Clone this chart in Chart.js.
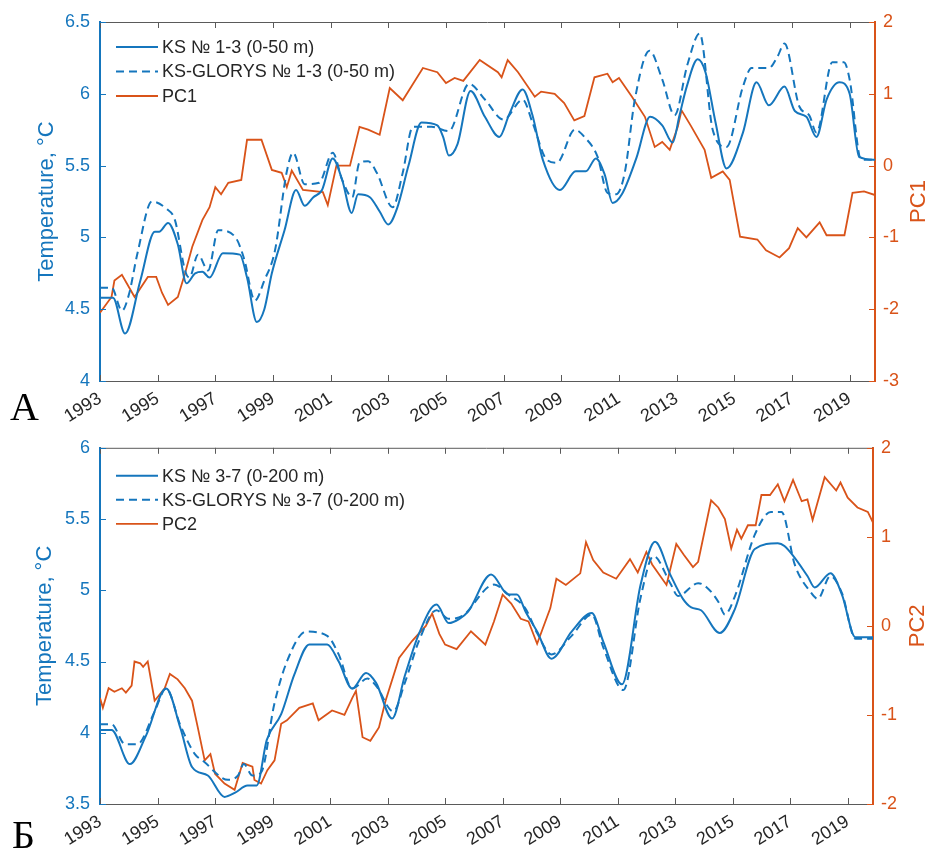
<!DOCTYPE html>
<html>
<head>
<meta charset="utf-8">
<script src="https://cdn.jsdelivr.net/npm/chart.js@4.4.1/dist/chart.umd.min.js"></script>
<style>
  body { margin: 0; background: #fff; width: 928px; height: 854px; position: relative; overflow: hidden; }
  .panel { position: absolute; left: 0; width: 928px; height: 427px; }
</style>
</head>
<body>
<div class="panel" style="top:0"><canvas id="chartA"></canvas></div>
<div class="panel" style="top:427px"><canvas id="chartB"></canvas></div>
<script>
// tick years on the time axis
const xTickYears = [1993, 1995, 1997, 1999, 2001, 2003, 2005, 2007, 2009, 2011, 2013, 2015, 2017, 2019];

// panel A: KS No 1-3 (0-50 m)
const ks13Years = [1993.0, 1993.45, 1993.87, 1994.4, 1994.9, 1995.05, 1995.36, 1995.7, 1996.0, 1996.3, 1996.55, 1996.8, 1997.26, 1997.85, 1998.1, 1998.44, 1998.7, 1998.96, 1999.4, 1999.8, 2000.1, 2000.4, 2000.7, 2001.07, 2001.4, 2001.73, 2001.95, 2002.36, 2002.7, 2003.0, 2003.3, 2003.7, 2004.15, 2004.7, 2004.9, 2005.1, 2005.4, 2005.85, 2006.35, 2006.85, 2007.2, 2007.66, 2008.0, 2008.36, 2008.95, 2009.5, 2009.85, 2010.2, 2010.5, 2010.78, 2011.1, 2011.6, 2012.08, 2012.5, 2012.86, 2013.1, 2013.35, 2013.73, 2014.0, 2014.35, 2014.73, 2015.3, 2015.77, 2016.2, 2016.74, 2017.1, 2017.5, 2017.85, 2018.2, 2018.65, 2019.0, 2019.33, 2019.88];
const ks13Temp  = [4.58, 4.58, 4.33, 4.70, 5.04, 5.04, 5.10, 4.95, 4.68, 4.75, 4.76, 4.72, 4.89, 4.88, 4.72, 4.41, 4.50, 4.75, 5.05, 5.33, 5.22, 5.28, 5.33, 5.55, 5.40, 5.17, 5.30, 5.28, 5.18, 5.09, 5.20, 5.50, 5.80, 5.78, 5.70, 5.57, 5.65, 6.02, 5.84, 5.70, 5.86, 6.03, 5.85, 5.54, 5.33, 5.46, 5.46, 5.55, 5.44, 5.24, 5.30, 5.55, 5.84, 5.78, 5.66, 5.85, 6.05, 6.24, 6.15, 5.80, 5.48, 5.73, 6.08, 5.92, 6.05, 5.88, 5.84, 5.70, 5.96, 6.08, 6.00, 5.56, 5.54];

// panel A: KS-GLORYS No 1-3 (0-50 m)
const glorys13Years = [1993.0, 1993.4, 1993.76, 1994.0, 1994.3, 1994.8, 1995.3, 1995.6, 1995.95, 1996.1, 1996.4, 1996.75, 1997.1, 1997.7, 1998.0, 1998.37, 1998.7, 1999.07, 1999.47, 1999.7, 2000.1, 2000.6, 2001.07, 2001.4, 2001.75, 2002.0, 2002.3, 2002.6, 2003.15, 2003.5, 2003.85, 2004.5, 2005.1, 2005.8, 2006.35, 2007.0, 2007.66, 2008.0, 2008.5, 2008.85, 2009.47, 2009.8, 2010.26, 2010.6, 2010.9, 2011.2, 2011.55, 2012.06, 2012.5, 2012.93, 2013.37, 2013.8, 2014.25, 2014.73, 2015.3, 2015.6, 2016.2, 2016.5, 2016.74, 2017.26, 2017.6, 2017.85, 2018.4, 2018.8, 2019.0, 2019.4, 2019.88];
const glorys13Temp  = [4.65, 4.65, 4.49, 4.60, 4.89, 5.25, 5.20, 5.12, 4.77, 4.72, 4.88, 4.77, 5.05, 5.00, 4.85, 4.56, 4.70, 4.91, 5.45, 5.59, 5.37, 5.38, 5.59, 5.40, 5.28, 5.52, 5.53, 5.45, 5.21, 5.45, 5.77, 5.77, 5.74, 6.07, 5.96, 5.82, 5.96, 5.80, 5.54, 5.52, 5.75, 5.70, 5.56, 5.31, 5.30, 5.45, 5.96, 6.30, 6.10, 5.85, 6.20, 6.42, 5.75, 5.63, 6.05, 6.18, 6.18, 6.26, 6.35, 5.91, 5.85, 5.73, 6.22, 6.22, 6.10, 5.54, 5.54];

// panel A: PC1
const pc1Years  = [1993.0, 1993.4, 1993.5, 1993.76, 1994.1, 1994.2, 1994.66, 1994.95, 1995.15, 1995.36, 1995.7, 1995.95, 1996.2, 1996.55, 1996.8, 1997.0, 1997.2, 1997.45, 1997.9, 1998.1, 1998.6, 1998.96, 1999.3, 1999.48, 1999.65, 2000.04, 2000.73, 2000.9, 2001.2, 2001.67, 2002.0, 2002.3, 2002.7, 2003.05, 2003.5, 2004.2, 2004.7, 2005.0, 2005.3, 2005.6, 2006.17, 2006.8, 2006.93, 2007.14, 2007.5, 2008.08, 2008.3, 2008.77, 2009.1, 2009.45, 2009.8, 2010.15, 2010.6, 2010.78, 2011.0, 2011.45, 2011.9, 2012.24, 2012.5, 2012.76, 2013.04, 2013.17, 2013.5, 2013.97, 2014.2, 2014.6, 2014.84, 2015.2, 2015.8, 2016.1, 2016.57, 2016.9, 2017.2, 2017.5, 2017.96, 2018.2, 2018.82, 2019.1, 2019.5, 2019.88];
const pc1Values = [-2.05, -1.83, -1.60, -1.52, -1.76, -1.83, -1.55, -1.55, -1.77, -1.94, -1.83, -1.50, -1.13, -0.76, -0.58, -0.30, -0.40, -0.24, -0.20, 0.36, 0.36, -0.06, -0.10, -0.30, -0.07, -0.34, -0.37, -0.55, 0.00, 0.00, 0.54, 0.50, 0.43, 1.08, 0.91, 1.36, 1.30, 1.15, 1.22, 1.18, 1.47, 1.30, 1.23, 1.47, 1.30, 0.96, 1.03, 1.00, 0.87, 0.63, 0.69, 1.23, 1.28, 1.16, 1.22, 0.96, 0.68, 0.26, 0.33, 0.22, 0.54, 0.77, 0.55, 0.22, -0.17, -0.08, -0.20, -0.99, -1.03, -1.18, -1.28, -1.15, -0.87, -1.00, -0.79, -0.97, -0.97, -0.38, -0.36, -0.41];

// panel B: KS No 3-7 (0-200 m)
const ks37Years = [1993.0, 1993.4, 1994.04, 1994.6, 1995.3, 1995.8, 1996.2, 1996.75, 1997.33, 1997.7, 1998.13, 1998.45, 1998.8, 1999.3, 1999.76, 2000.28, 2000.9, 2001.3, 2001.77, 2002.25, 2002.6, 2003.16, 2003.6, 2004.1, 2004.7, 2005.13, 2005.5, 2005.8, 2006.6, 2007.2, 2007.5, 2007.8, 2008.2, 2008.7, 2009.4, 2010.1, 2010.5, 2011.15, 2011.8, 2012.3, 2012.83, 2013.27, 2013.56, 2013.9, 2014.55, 2015.08, 2015.77, 2016.57, 2016.8, 2017.6, 2017.85, 2018.4, 2018.8, 2019.27, 2019.88];
const ks37Temp  = [4.02, 4.02, 3.78, 3.98, 4.31, 4.03, 3.76, 3.70, 3.55, 3.58, 3.63, 3.63, 3.95, 4.13, 4.41, 4.62, 4.62, 4.50, 4.31, 4.42, 4.35, 4.10, 4.40, 4.70, 4.90, 4.77, 4.80, 4.85, 5.11, 4.97, 4.97, 4.85, 4.71, 4.52, 4.71, 4.84, 4.64, 4.34, 5.04, 5.34, 5.11, 4.94, 4.88, 4.86, 4.70, 4.87, 5.29, 5.33, 5.31, 5.10, 5.02, 5.12, 4.97, 4.67, 4.67];

// panel B: KS-GLORYS No 3-7 (0-200 m)
const glorys37Years = [1993.0, 1993.4, 1993.87, 1994.3, 1994.9, 1995.3, 1995.8, 1996.3, 1996.6, 1997.45, 1997.8, 1998.0, 1998.3, 1998.6, 1999.06, 1999.5, 2000.17, 2000.9, 2001.3, 2001.77, 2002.3, 2002.6, 2003.2, 2003.6, 2004.1, 2004.7, 2005.13, 2005.6, 2006.7, 2007.2, 2007.8, 2008.2, 2008.7, 2009.4, 2010.1, 2010.5, 2011.2, 2011.8, 2012.25, 2012.83, 2013.1, 2013.8, 2014.1, 2014.5, 2014.73, 2015.1, 2015.77, 2016.33, 2016.7, 2017.16, 2017.7, 2017.96, 2018.4, 2018.8, 2019.27, 2019.88];
const glorys37Temp  = [4.06, 4.06, 3.92, 3.92, 4.15, 4.31, 4.05, 3.85, 3.80, 3.67, 3.70, 3.78, 3.70, 3.72, 4.20, 4.50, 4.71, 4.68, 4.55, 4.31, 4.38, 4.33, 4.15, 4.35, 4.65, 4.86, 4.80, 4.82, 5.04, 4.97, 4.87, 4.70, 4.55, 4.68, 4.83, 4.60, 4.30, 4.95, 5.24, 5.05, 4.96, 5.05, 5.02, 4.92, 4.83, 4.97, 5.39, 5.55, 5.55, 5.18, 4.99, 4.94, 5.10, 4.98, 4.66, 4.66];

// panel B: PC2
const pc2Years  = [1993.0, 1993.1, 1993.3, 1993.5, 1993.76, 1993.9, 1994.1, 1994.2, 1994.4, 1994.5, 1994.66, 1994.9, 1995.25, 1995.43, 1995.7, 1995.95, 1996.2, 1996.4, 1996.64, 1996.84, 1997.0, 1997.33, 1997.68, 1997.96, 1998.3, 1998.37, 1998.6, 1998.82, 1999.07, 1999.3, 1999.5, 1999.93, 2000.4, 2000.6, 2001.07, 2001.5, 2001.77, 2001.9, 2002.13, 2002.4, 2002.7, 2002.93, 2003.4, 2003.85, 2004.33, 2004.55, 2004.8, 2005.0, 2005.4, 2005.9, 2006.4, 2006.7, 2007.0, 2007.3, 2007.63, 2007.9, 2008.2, 2008.66, 2008.87, 2009.2, 2009.7, 2009.9, 2010.15, 2010.5, 2010.95, 2011.43, 2011.7, 2012.0, 2012.2, 2012.7, 2013.04, 2013.3, 2013.62, 2013.8, 2014.25, 2014.5, 2014.73, 2014.95, 2015.15, 2015.3, 2015.53, 2015.8, 2016.0, 2016.3, 2016.57, 2016.8, 2017.1, 2017.4, 2017.6, 2017.78, 2018.2, 2018.6, 2018.75, 2019.0, 2019.34, 2019.7, 2019.88];
const pc2Values = [-0.81, -0.92, -0.70, -0.74, -0.70, -0.75, -0.67, -0.40, -0.42, -0.46, -0.40, -0.84, -0.70, -0.54, -0.60, -0.70, -0.84, -1.14, -1.51, -1.44, -1.66, -1.77, -1.84, -1.54, -1.58, -1.73, -1.77, -1.62, -1.51, -1.10, -1.06, -0.92, -0.87, -1.06, -0.95, -1.00, -0.81, -0.73, -1.25, -1.29, -1.14, -0.84, -0.36, -0.17, 0.00, 0.14, -0.09, -0.21, -0.26, -0.06, -0.21, 0.05, 0.35, 0.25, 0.08, 0.05, -0.20, 0.20, 0.53, 0.46, 0.59, 0.94, 0.74, 0.60, 0.53, 0.75, 0.60, 0.83, 0.69, 0.46, 0.92, 0.80, 0.66, 0.72, 1.41, 1.33, 1.20, 0.87, 1.08, 0.98, 1.13, 1.13, 1.47, 1.47, 1.59, 1.40, 1.64, 1.40, 1.42, 1.19, 1.67, 1.52, 1.61, 1.44, 1.33, 1.28, 1.16];

const BLUE = '#1576bd';
const ORANGE = '#d95319';
const DARK = '#262626';
const FONT = '"Liberation Sans", Arial, sans-serif';
Chart.defaults.font.family = FONT;

const pts = (xs, ys) => xs.map((x, i) => ({ x, y: ys[i] }));

// box, inward ticks, legend, axis titles and panel letter
const decor = {
  id: 'decor',
  afterDraw(chart, _args, o) {
    const ctx = chart.ctx, a = chart.chartArea;
    const sx = chart.scales.x, yl = chart.scales.y, yr = chart.scales.y1;
    const L = 6;
    ctx.save();
    ctx.lineWidth = 1;
    ctx.strokeStyle = '#5a5a5a';
    ctx.beginPath();
    ctx.moveTo(a.left, a.top + 0.5); ctx.lineTo(a.right, a.top + 0.5);
    sx.ticks.forEach(t => {
      const x = Math.round(sx.getPixelForValue(t.value)) + 0.5;
      ctx.moveTo(x, a.bottom); ctx.lineTo(x, a.bottom - L);
      ctx.moveTo(x, a.top); ctx.lineTo(x, a.top + L);
    });
    ctx.stroke();
    ctx.strokeStyle = BLUE;
    ctx.beginPath();
    yl.ticks.forEach(t => {
      const y = Math.round(yl.getPixelForValue(t.value)) + 0.5;
      ctx.moveTo(a.left, y); ctx.lineTo(a.left + L, y);
    });
    ctx.stroke();
    ctx.strokeStyle = ORANGE;
    ctx.beginPath();
    yr.ticks.forEach(t => {
      const y = Math.round(yr.getPixelForValue(t.value)) + 0.5;
      ctx.moveTo(a.right, y); ctx.lineTo(a.right - L, y);
    });
    ctx.stroke();

    // legend
    ctx.font = '18px ' + FONT;
    ctx.textBaseline = 'middle';
    ctx.textAlign = 'left';
    chart.data.datasets.forEach((ds, i) => {
      const y = a.top + o.legendTop + i * o.legendGap;
      ctx.strokeStyle = ds.borderColor;
      ctx.lineWidth = ds.borderWidth;
      ctx.setLineDash(ds.borderDash || []);
      ctx.beginPath();
      ctx.moveTo(a.left + 16, y); ctx.lineTo(a.left + 58, y);
      ctx.stroke();
      ctx.setLineDash([]);
      ctx.fillStyle = DARK;
      ctx.fillText(ds.label, a.left + 62, y + 1);
    });

    // axis titles, both read bottom to top
    const cy = (a.top + a.bottom) / 2;
    ctx.font = '22px ' + FONT;
    ctx.textAlign = 'center';
    [[o.leftTitleX, o.leftTitle, BLUE], [o.rightTitleX, o.rightTitle, ORANGE]].forEach(([x, text, color]) => {
      ctx.save();
      ctx.translate(x, cy);
      ctx.rotate(-Math.PI / 2);
      ctx.fillStyle = color;
      ctx.fillText(text, 0, 0);
      ctx.restore();
    });

    // panel letter
    ctx.font = '40px "Liberation Serif", "Times New Roman", serif';
    ctx.fillStyle = '#000';
    ctx.textAlign = 'left';
    ctx.textBaseline = 'alphabetic';
    ctx.fillText(o.letter, o.letterX, o.letterY);
    ctx.restore();
  }
};

function makeChart(id, sets, cfg) {
  return new Chart(document.getElementById(id), {
    type: 'line',
    data: {
      datasets: [
        { label: sets[0].label, data: sets[0].data, yAxisID: 'y', borderColor: BLUE, borderWidth: 2, pointRadius: 0, cubicInterpolationMode: 'monotone' },
        { label: sets[1].label, data: sets[1].data, yAxisID: 'y', borderColor: BLUE, borderWidth: 2, borderDash: [8, 5], pointRadius: 0, cubicInterpolationMode: 'monotone' },
        { label: sets[2].label, data: sets[2].data, yAxisID: 'y1', borderColor: ORANGE, borderWidth: 1.8, pointRadius: 0, tension: 0 }
      ]
    },
    options: {
      responsive: true,
      maintainAspectRatio: false,
      animation: false,
      layout: { padding: { top: cfg.padTop, left: 0, right: 0, bottom: 0 } },
      plugins: { legend: { display: false }, tooltip: { enabled: false }, decor: cfg.decor },
      scales: {
        x: {
          type: 'linear', min: 1993, max: 2019.88,
          afterBuildTicks: s => { s.ticks = xTickYears.map(v => ({ value: v })); },
          afterFit: s => { s.height = cfg.xHeight; },
          grid: { drawOnChartArea: false, drawTicks: false },
          border: { color: '#5a5a5a', width: 1 },
          ticks: { autoSkip: false, minRotation: 32, maxRotation: 32, padding: 7, color: DARK, font: { size: 18 }, callback: v => String(v) }
        },
        y: {
          position: 'left', min: cfg.tMin, max: cfg.tMax,
          afterBuildTicks: s => { s.ticks = cfg.tTicks.map(v => ({ value: v })); },
          afterFit: s => { s.width = 100; },
          grid: { drawOnChartArea: false, drawTicks: false },
          border: { color: BLUE, width: 2 },
          ticks: { padding: 10, color: BLUE, font: { size: 18 }, callback: v => String(v) }
        },
        y1: {
          position: 'right', min: cfg.pcMin, max: cfg.pcMax,
          afterBuildTicks: s => { s.ticks = cfg.pcTicks.map(v => ({ value: v })); },
          afterFit: s => { s.width = cfg.rightWidth; },
          grid: { drawOnChartArea: false, drawTicks: false },
          border: { color: ORANGE, width: 2 },
          ticks: { padding: 8, color: ORANGE, font: { size: 18 }, callback: v => String(v) }
        }
      }
    },
    plugins: [decor]
  });
}

makeChart('chartA', [
  { label: 'KS № 1-3 (0-50 m)', data: pts(ks13Years, ks13Temp) },
  { label: 'KS-GLORYS № 1-3 (0-50 m)', data: pts(glorys13Years, glorys13Temp) },
  { label: 'PC1', data: pts(pc1Years, pc1Values) }
], {
  padTop: 22, xHeight: 46, rightWidth: 53,
  tMin: 4, tMax: 6.5, tTicks: [4, 4.5, 5, 5.5, 6, 6.5],
  pcMin: -3, pcMax: 2, pcTicks: [-3, -2, -1, 0, 1, 2],
  decor: { legendTop: 25, legendGap: 24.5, leftTitle: 'Temperature, °C', leftTitleX: 47, rightTitle: 'PC1', rightTitleX: 919, letter: 'А', letterX: 10, letterY: 420 }
});

makeChart('chartB', [
  { label: 'KS № 3-7 (0-200 m)', data: pts(ks37Years, ks37Temp) },
  { label: 'KS-GLORYS № 3-7 (0-200 m)', data: pts(glorys37Years, glorys37Temp) },
  { label: 'PC2', data: pts(pc2Years, pc2Values) }
], {
  padTop: 18, xHeight: 50, rightWidth: 55,
  tMin: 3.5, tMax: 6, tTicks: [3.5, 4, 4.5, 5, 5.5, 6],
  pcMin: -2, pcMax: 2, pcTicks: [-2, -1, 0, 1, 2],
  decor: { legendTop: 28, legendGap: 24, leftTitle: 'Temperature, °C', leftTitleX: 45, rightTitle: 'PC2', rightTitleX: 918, letter: 'Б', letterX: 12, letterY: 421 }
});
</script>
</body>
</html>
